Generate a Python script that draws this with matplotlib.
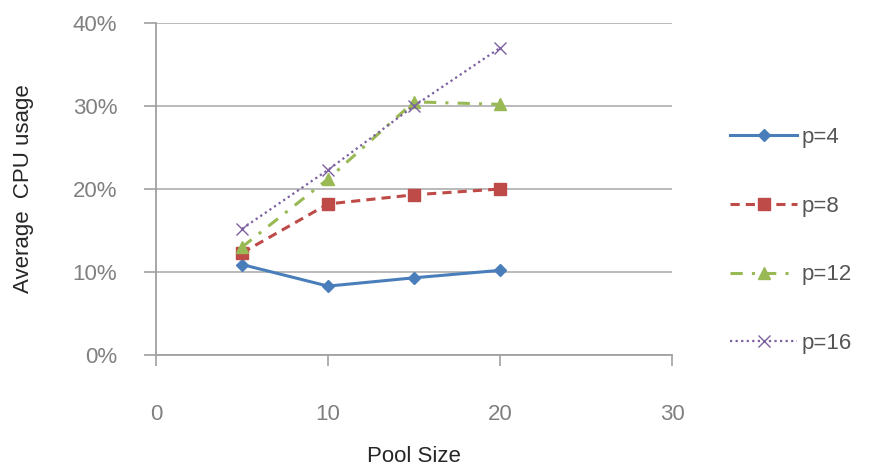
import numpy as np
import matplotlib.pyplot as plt
from matplotlib.ticker import PercentFormatter

plt.rcParams['font.family'] = ['Liberation Sans', 'DejaVu Sans']

# pool sizes and average cpu usage (%) per p value
pool_size = [5, 10, 15, 20]
p4 = [10.9, 8.3, 9.3, 10.2]
p8 = [12.3, 18.2, 19.3, 20.0]
p12 = [13.0, 21.2, 30.5, 30.2]
p16 = [15.2, 22.3, 30.0, 37.0]
series_names = ['p=4', 'p=8', 'p=12', 'p=16']

fig = plt.figure(figsize=(8.69, 4.68), dpi=100)
ax = fig.add_axes([156/869, 1-355/468, 516/869, 332/468])

ax.plot(pool_size, p4, color='#4A7EBB', lw=2.2, marker='D', ms=6, label=series_names[0])
ax.plot(pool_size, p8, color='#BE4B48', lw=2.2, ls=(0, (3, 2)), marker='s', ms=8.5,
        label=series_names[1])
ax.plot(pool_size, p12, color='#98B954', lw=2.2, ls=(0, (4, 3, 1, 3)), marker='^', ms=8.5,
        label=series_names[2])
ax.plot(pool_size, p16, color='#7D60A0', lw=1.6, ls=(0, (1, 1.5)), marker='x', ms=8,
        mew=1, label=series_names[3])

ax.set_xlim(0, 30)
ax.set_ylim(0, 40)
ax.set_xticks([0, 10, 20, 30])
ax.set_yticks([0, 10, 20, 30, 40])
ax.yaxis.set_major_formatter(PercentFormatter(decimals=0))
ax.yaxis.grid(True, color='#b4b4b4', lw=1.3)
ax.set_axisbelow(True)

for s in ['top', 'right']:
    ax.spines[s].set_visible(False)
for s in ['left', 'bottom']:
    ax.spines[s].set_color('#a0a0a0')
    ax.spines[s].set_linewidth(1.3)
ax.tick_params(axis='both', colors='#a8a8a8', length=9, width=1.3,
               labelcolor='#808080', labelsize=16)
ax.tick_params(axis='y', pad=19)
ax.tick_params(axis='x', length=8, pad=27)

ax.set_xlabel('Pool Size', fontsize=16, color='#262626')
ax.xaxis.set_label_coords(0.5, -0.275)
ax.set_ylabel('Average  CPU usage', fontsize=16, color='#262626')
ax.yaxis.set_label_coords(-0.236, 0.5)

leg = ax.legend(loc='upper left', bbox_to_anchor=(1.113, 0.687), frameon=False,
                fontsize=16, handlelength=3.0, labelspacing=2.15, handletextpad=0.2,
                borderaxespad=0, borderpad=0)
for t in leg.get_texts():
    t.set_color('#555555')

fig.savefig('out.png', dpi=100)
